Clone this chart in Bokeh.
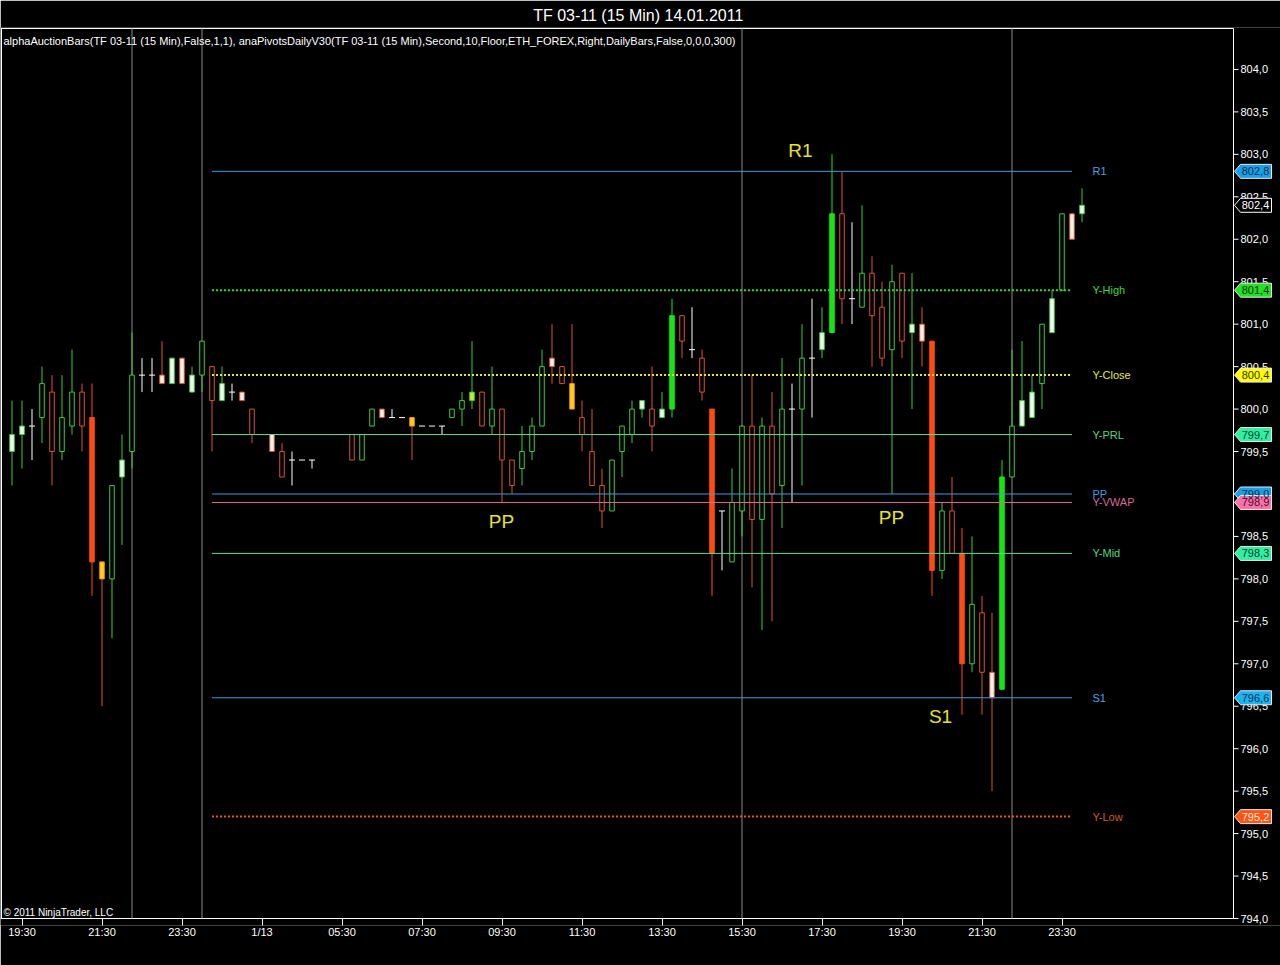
import numpy as np
from bokeh.plotting import figure
from bokeh.models import Range1d, FixedTicker, ColumnDataSource
from bokeh.core.properties import value
from bokeh.embed import file_html
from bokeh.resources import INLINE

NA = None  # bar without trades

# ---- 15-minute bars, TF 03-11 (bar index 0..107) ----
opens = [799.5, 799.7, 799.8, 799.9, 800.2, 799.5, 799.8, 800.2, 799.9, 798.2,
         798.0, 799.2, 799.5, 800.4, 800.4, 800.4, 800.3, 800.6, 800.2, 800.4,
         800.5, 800.1, 800.2, 800.2, 800.0, NA, 799.7, 799.5, 799.4, 799.4,
         799.4, NA, NA, NA, 799.7, 799.4, 799.8, 800.0, 799.9, 799.9,
         799.9, 799.8, 799.8, 799.8, 799.9, 800.0, 800.1, 800.2, 799.8, 800.0,
         799.4, 799.3, 799.5, 799.8, 800.6, 800.5, 800.3, 799.9, 799.5, 799.1,
         798.8, 799.5, 799.7, 800.0, 800.0, 799.9, 800.0, 801.1, 800.7, 800.6,
         800.0, 798.8, 798.2, 798.8, 799.8, 798.7, 799.8, 799.1, 800.0, 800.0,
         800.6, 800.7, 800.9, 802.3, 801.3, 801.2, 801.6, 801.2, 800.7, 801.6,
         800.9, 801.0, 800.8, 798.1, 798.8, 798.3, 797.0, 797.6, 796.9, 796.7,
         799.2, 799.8, 799.9, 800.3, 800.9, 801.4, 802.3, 802.3]
highs = [800.1, 800.1, 800.0, 800.5, 800.4, 800.4, 800.7, 800.3, 800.3, 798.2,
         799.1, 799.7, 800.9, 800.6, 800.6, 800.8, 800.6, 800.6, 800.5, 800.8,
         800.5, 800.5, 800.3, 800.2, 800.0, NA, 799.7, 799.6, 799.5, 799.4,
         799.4, NA, NA, NA, 799.7, 799.7, 800.0, 800.0, 800.0, 799.9,
         799.9, 799.8, 799.8, 799.8, 800.0, 800.2, 800.8, 800.2, 800.5, 800.0,
         799.4, 799.8, 799.9, 800.7, 801.0, 800.5, 801.0, 800.1, 800.0, 799.3,
         799.4, 799.8, 800.1, 800.1, 800.5, 800.2, 801.3, 801.1, 801.2, 800.7,
         800.0, 798.8, 799.3, 799.8, 800.4, 799.9, 800.2, 800.6, 800.3, 801.0,
         801.3, 801.2, 803.0, 802.8, 802.2, 802.4, 801.8, 801.5, 801.7, 801.6,
         801.6, 801.2, 800.8, 798.9, 799.2, 798.6, 798.5, 797.8, 797.6, 799.4,
         800.7, 800.8, 800.4, 801.0, 801.4, 802.3, 802.3, 802.6]
lows = [799.1, 799.3, 799.4, 799.6, 799.1, 799.4, 799.7, 799.5, 797.8, 796.5,
        797.3, 798.4, 799.3, 800.2, 800.2, 800.3, 800.3, 800.3, 800.2, 800.2,
        799.5, 800.1, 800.1, 800.1, 799.6, NA, 799.5, 799.2, 799.1, 799.4,
        799.3, NA, NA, NA, 799.4, 799.4, 799.8, 799.9, 799.9, 799.9,
        799.4, 799.8, 799.8, 799.7, 799.9, 799.8, 800.0, 799.8, 799.7, 798.9,
        799.0, 799.1, 799.4, 799.8, 800.3, 800.3, 800.0, 799.5, 799.1, 798.6,
        798.8, 799.2, 799.6, 799.9, 799.5, 799.9, 799.9, 800.6, 800.6, 800.1,
        797.8, 798.1, 798.2, 798.5, 797.9, 797.4, 797.5, 798.6, 798.9, 799.1,
        799.9, 800.6, 800.9, 801.0, 801.0, 801.2, 800.5, 800.5, 799.0, 800.6,
        800.0, 800.5, 797.8, 798.0, 798.3, 796.4, 796.9, 796.4, 795.5, 796.7,
        799.2, 799.8, 799.9, 800.0, 800.9, 801.4, 802.0, 802.2]
closes = [799.7, 799.8, 799.8, 800.3, 799.5, 799.9, 800.2, 799.8, 798.2, 798.0,
          799.1, 799.4, 800.4, 800.4, 800.4, 800.3, 800.6, 800.3, 800.4, 800.8,
          800.1, 800.3, 800.2, 800.1, 799.7, NA, 799.5, 799.2, 799.4, 799.4,
          799.4, NA, NA, NA, 799.4, 799.7, 800.0, 799.9, 799.9, 799.9,
          799.8, 799.8, 799.8, 799.8, 800.0, 800.1, 800.2, 799.8, 800.0, 799.4,
          799.1, 799.5, 799.8, 800.5, 800.5, 800.3, 800.0, 799.7, 799.1, 798.8,
          799.4, 799.8, 800.0, 800.1, 799.8, 800.0, 801.1, 800.8, 800.7, 800.2,
          798.3, 798.8, 798.9, 799.8, 798.7, 799.8, 799.0, 800.0, 800.0, 800.6,
          800.6, 800.9, 802.3, 801.3, 801.3, 801.6, 801.1, 800.6, 801.5, 800.8,
          801.0, 800.8, 798.1, 798.8, 798.3, 797.0, 797.7, 796.9, 796.6, 799.2,
          799.8, 800.1, 800.2, 801.0, 801.3, 802.3, 802.0, 802.4]
# bar paint: u/d hollow up/down, U/D solid, wu/wd white body, y yellow, g lime, x doji
styles = ["wu", "wu", "x", "u", "d", "u", "u", "d", "D", "y",
          "u", "wu", "u", "x", "x", "wd", "wu", "wd", "wu", "u",
          "d", "wu", "x", "wd", "d", "x", "wd", "d", "x", "x",
          "x", "x", "x", "x", "d", "u", "u", "wd", "x", "x",
          "y", "x", "x", "x", "u", "u", "g", "d", "u", "d",
          "d", "u", "u", "u", "wd", "d", "y", "d", "d", "d",
          "u", "u", "u", "wu", "d", "wu", "U", "d", "x", "d",
          "D", "x", "u", "u", "d", "u", "d", "u", "x", "u",
          "x", "wu", "U", "d", "x", "u", "d", "d", "u", "d",
          "wu", "wd", "D", "u", "d", "D", "u", "d", "wd", "U",
          "u", "wu", "wu", "u", "wu", "u", "wd", "wu"]

tick_bars = [1, 9, 17, 25, 33, 41, 49, 57, 65, 73, 81, 89, 97, 105]
tick_labels = ["19:30", "21:30", "23:30", "1/13", "05:30", "07:30", "09:30",
               "11:30", "13:30", "15:30", "17:30", "19:30", "21:30", "23:30"]
session_bars = [12, 19, 73, 100]

price_ticks = [794.0, 794.5, 795.0, 795.5, 796.0, 796.5, 797.0, 797.5, 798.0,
               798.5, 799.0, 799.5, 800.0, 800.5, 801.0, 801.5, 802.0, 802.5,
               803.0, 803.5, 804.0]
price_tick_labels = ["794,0", "794,5", "795,0", "795,5", "796,0", "796,5", "797,0",
                     "797,5", "798,0", "798,5", "799,0", "799,5", "800,0", "800,5",
                     "801,0", "801,5", "802,0", "802,5", "803,0", "803,5", "804,0"]

# ---- daily pivots ----
level_names = ["R1", "Y-High", "Y-Close", "Y-PRL", "PP", "Y-VWAP", "Y-Mid", "S1", "Y-Low"]
level_values = [802.8, 801.4, 800.4, 799.7, 799.0, 798.9, 798.3, 796.6, 795.2]
level_tags = ["802,8", "801,4", "800,4", "799,7", "799,0", "798,9", "798,3", "796,6", "795,2"]
level_dotted = [False, True, True, False, False, False, False, False, True]
level_colors = ["#3d9be0", "#2fd62f", "#e6e628", "#5cdc8a", "#3d9be0",
                "#e0689a", "#5cdc8a", "#3d9be0", "#e8501e"]
level_text_colors = ["#4aa0e0", "#3ed63e", "#e6e640", "#55d47f", "#3d9be0",
                     "#d86a98", "#55d47f", "#3da8e8", "#d05a2a"]
tag_fills = ["#1aa0e8", "#22e022", "#ffff00", "#2ef0a0", "#1aa0e8",
             "#ff70a8", "#2ef0a0", "#1ab4f4", "#ff5516"]
tag_text_colors = ["#06304a", "#063006", "#303000", "#064030", "#06304a",
                   "#40102a", "#064030", "#06304a", "#ffe8d8"]
last_price = 802.4
last_price_tag = "802,4"
pivot_first_bar, pivot_last_bar = 20, 106

# ---- marker texts on the chart ----
note_texts = ["R1", "PP", "PP", "S1"]
note_x = [78.85, 48.95, 87.95, 92.85]
note_y = [803.04, 798.68, 798.72, 796.38]

GREEN = "#3ccc3c"
RED = "#dc5230"
SGREEN = "#14e614"
SRED = "#ff4c0c"
line_map = {"u": GREEN, "d": RED, "U": SGREEN, "D": SRED, "wu": GREEN, "wd": RED,
            "y": "#ff8a1a", "g": GREEN, "x": "white"}
fill_map = {"u": "black", "d": "black", "U": SGREEN, "D": SRED, "wu": "#f4fff4",
            "wd": "#fff6ee", "y": "#ffd21a", "g": "#c8f01e", "x": "white"}
wick_map = {"u": GREEN, "d": RED, "U": SGREEN, "D": SRED, "wu": GREEN, "wd": RED,
            "y": RED, "g": GREEN, "x": "white"}

o = np.array(opens, dtype=float)
h = np.array(highs, dtype=float)
l = np.array(lows, dtype=float)
c = np.array(closes, dtype=float)
st = np.array(styles)
idx = np.arange(len(o))
traded = ~np.isnan(o)

wm = traded
wicks = ColumnDataSource(dict(x=idx[wm], low=l[wm], high=h[wm],
                              color=[wick_map[s] for s in st[wm]]))
bm = traded & (st != "x")
bodies = ColumnDataSource(dict(
    x=idx[bm], top=np.maximum(o, c)[bm], bottom=np.minimum(o, c)[bm],
    fill=[fill_map[s] for s in st[bm]], line=[line_map[s] for s in st[bm]]))
dm = traded & (st == "x")
dojis = ColumnDataSource(dict(x0=idx[dm] - 0.3, x1=idx[dm] + 0.3, y=o[dm]))

# 10 px per bar, 85 px per point
X_LEFT, X_RIGHT = -1.15, 126.85          # full canvas width
AX_X = 122.15                            # price scale line
Y_BOT, Y_TOP = 794.0 - 7 / 85, 794.0 + 892 / 85
TOP_LINE = 794.0 + 891 / 85

p = figure(width=1280, height=965,
           x_range=Range1d(X_LEFT, X_RIGHT), y_range=Range1d(Y_BOT, Y_TOP),
           output_backend="svg", toolbar_location=None,
           min_border_left=0, min_border_right=0,
           min_border_top=26, min_border_bottom=40,
           background_fill_color="black", border_fill_color="black",
           outline_line_color=None)
p.grid.visible = False
p.yaxis.visible = False

p.title.text = "TF 03-11 (15 Min)  14.01.2011"
p.title.align = "center"
p.title.text_color = "white"
p.title.text_font = "Liberation Sans"
p.title.text_font_size = "16px"
p.title.text_font_style = "normal"
p.title.standoff = 8

# panel frame
p.segment(x0=[-1.15, -1.05, -1.15, AX_X], x1=[AX_X, -1.05, AX_X, AX_X],
          y0=[TOP_LINE, TOP_LINE, 794.0, TOP_LINE], y1=[TOP_LINE, 794.0, 794.0, 794.0],
          line_color="white", line_width=1)

# session separators
p.segment(x0=session_bars, x1=session_bars, y0=794.0, y1=TOP_LINE,
          line_color="#8a8a8a", line_width=1)

# candles
p.segment(x0="x", x1="x", y0="low", y1="high", line_color="color",
          line_width=1, source=wicks)
p.vbar(x="x", width=0.45, top="top", bottom="bottom", fill_color="fill",
       line_color="line", line_width=1, source=bodies)
p.segment(x0="x0", x1="x1", y0="y", y1="y", line_color="white",
          line_width=1, source=dojis)

# pivot lines and their names
for name, v, dotted, col, tcol in zip(level_names, level_values, level_dotted,
                                      level_colors, level_text_colors):
    if dotted:
        p.segment(x0=[pivot_first_bar], x1=[pivot_last_bar], y0=[v], y1=[v],
                  line_color=col, line_width=2, line_dash="2 2")
    else:
        p.segment(x0=[pivot_first_bar], x1=[pivot_last_bar], y0=[v], y1=[v],
                  line_color=col, line_width=1)
    p.text(x=[108.05], y=[v], text=[name], text_color=tcol,
           text_font=value("Liberation Sans"), text_font_size="11px",
           text_align="left", text_baseline="middle")

p.text(x=note_x, y=note_y, text=note_texts, text_color="#e4e42c",
       text_font=value("Liberation Sans"), text_font_size="19px",
       text_align="center", text_baseline="middle")

p.text(x=[-0.85], y=[804.34],
       text=["alphaAuctionBars(TF 03-11 (15 Min),False,1,1), anaPivotsDailyV30(TF 03-11 (15 Min),"
             "Second,10,Floor,ETH_FOREX,Right,DailyBars,False,0,0,0,300)"],
       text_color="white", text_font=value("Liberation Sans"), text_font_size="11px",
       text_align="left", text_baseline="middle")
p.text(x=[-0.85], y=[794.07], text=["© 2011 NinjaTrader, LLC"],
       text_color="white", text_font=value("Liberation Sans"), text_font_size="10px",
       text_align="left", text_baseline="middle")

# time axis: ticks reach up to the panel's bottom line
xa = p.xaxis[0]
xa.ticker = FixedTicker(ticks=tick_bars)
xa.major_label_overrides = {b: t for b, t in zip(tick_bars, tick_labels)}
xa.axis_line_color = None
xa.major_tick_line_color = "white"
xa.minor_tick_line_color = None
xa.major_tick_out = 0
xa.major_tick_in = 7
xa.major_label_text_color = "white"
xa.major_label_text_font = "Liberation Sans"
xa.major_label_text_font_size = "11px"
xa.major_label_standoff = 0

# price scale
p.segment(x0=[AX_X] * len(price_ticks), x1=[AX_X + 0.5] * len(price_ticks),
          y0=price_ticks, y1=price_ticks, line_color="white", line_width=1)
p.text(x=[AX_X + 0.7] * len(price_ticks), y=price_ticks, text=price_tick_labels,
       text_color="white", text_font=value("Liberation Sans"), text_font_size="11px",
       text_align="left", text_baseline="middle")

# price markers on the scale
HALF = 7 / 85
X_TIP, X_SHOULDER, X_END, X_TEXT = 122.25, 122.85, 125.95, 124.35


def tag_shape(v):
    return ([X_TIP, X_SHOULDER, X_END, X_END, X_SHOULDER],
            [v, v + HALF, v + HALF, v - HALF, v - HALF])


shapes = [tag_shape(v) for v in level_values]
p.patches(xs=[s[0] for s in shapes], ys=[s[1] for s in shapes],
          fill_color=tag_fills, line_color="#e8e8e8", line_width=1)
p.text(x=[X_TEXT] * len(level_values), y=level_values, text=level_tags,
       text_color=tag_text_colors, text_font=value("Liberation Sans"),
       text_font_size="11px", text_align="center", text_baseline="middle")

last_shape = tag_shape(last_price)
p.patch(x=last_shape[0], y=last_shape[1], fill_color="black",
        line_color="white", line_width=1)
p.text(x=[X_TEXT], y=[last_price], text=[last_price_tag], text_color="white",
       text_font=value("Liberation Sans"), text_font_size="11px",
       text_align="center", text_baseline="middle")

open("out.html", "w").write(file_html(p, INLINE))
